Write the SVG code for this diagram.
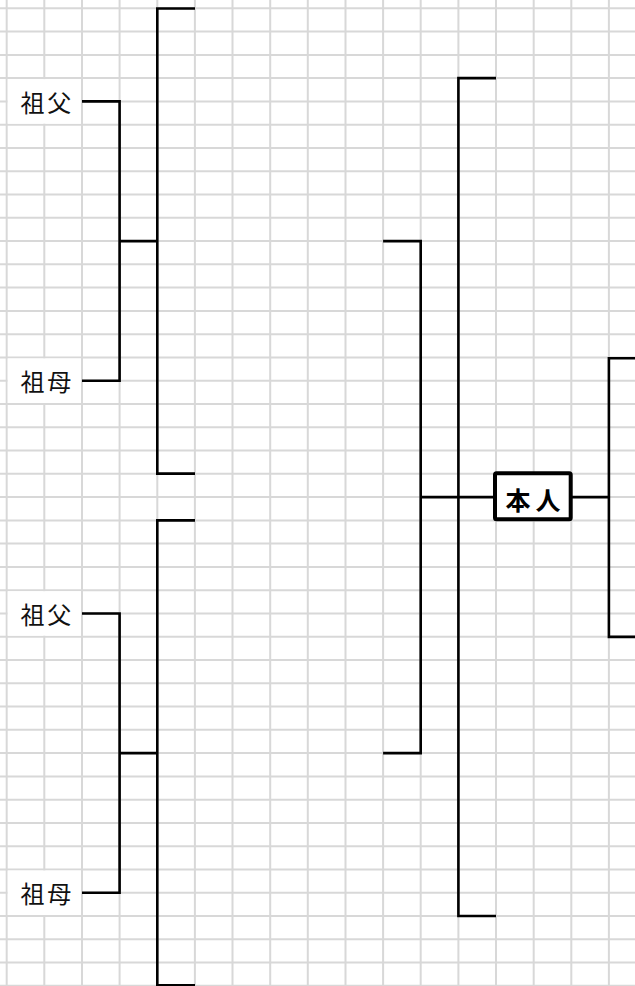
<svg xmlns="http://www.w3.org/2000/svg" width="635" height="986" viewBox="0 0 635 986">
<defs>
<style>
.grid line{stroke:#d8d8d8;stroke-width:2}
.cell{fill:#ffffff}
.lbl{font-family:"Noto Sans CJK JP","Noto Sans CJK SC",sans-serif;font-size:24px;fill:#111111;letter-spacing:2.7px}
.me{font-family:"Noto Sans CJK JP","Noto Sans CJK SC",sans-serif;font-size:25px;font-weight:bold;fill:#000000;letter-spacing:5px}
.box{fill:#ffffff;stroke:#000000;stroke-width:4}
.con path{fill:none;stroke:#000000;stroke-width:2.6;stroke-linejoin:miter}
</style>
</defs>
<rect x="0" y="0" width="635" height="986" fill="#ffffff"/>
<g class="grid">
<line x1="6.7" y1="0" x2="6.7" y2="986"/>
<line x1="44.3" y1="0" x2="44.3" y2="986"/>
<line x1="82" y1="0" x2="82" y2="986"/>
<line x1="119.6" y1="0" x2="119.6" y2="986"/>
<line x1="157.3" y1="0" x2="157.3" y2="986"/>
<line x1="194.9" y1="0" x2="194.9" y2="986"/>
<line x1="232.5" y1="0" x2="232.5" y2="986"/>
<line x1="270.2" y1="0" x2="270.2" y2="986"/>
<line x1="307.8" y1="0" x2="307.8" y2="986"/>
<line x1="345.5" y1="0" x2="345.5" y2="986"/>
<line x1="383.1" y1="0" x2="383.1" y2="986"/>
<line x1="420.7" y1="0" x2="420.7" y2="986"/>
<line x1="458.4" y1="0" x2="458.4" y2="986"/>
<line x1="496" y1="0" x2="496" y2="986"/>
<line x1="533.7" y1="0" x2="533.7" y2="986"/>
<line x1="571.3" y1="0" x2="571.3" y2="986"/>
<line x1="608.9" y1="0" x2="608.9" y2="986"/>
<line x1="0" y1="8.3" x2="635" y2="8.3"/>
<line x1="0" y1="31.6" x2="635" y2="31.6"/>
<line x1="0" y1="54.9" x2="635" y2="54.9"/>
<line x1="0" y1="78.1" x2="635" y2="78.1"/>
<line x1="0" y1="101.4" x2="635" y2="101.4"/>
<line x1="0" y1="124.7" x2="635" y2="124.7"/>
<line x1="0" y1="148" x2="635" y2="148"/>
<line x1="0" y1="171.2" x2="635" y2="171.2"/>
<line x1="0" y1="194.5" x2="635" y2="194.5"/>
<line x1="0" y1="217.8" x2="635" y2="217.8"/>
<line x1="0" y1="241.1" x2="635" y2="241.1"/>
<line x1="0" y1="264.3" x2="635" y2="264.3"/>
<line x1="0" y1="287.6" x2="635" y2="287.6"/>
<line x1="0" y1="310.9" x2="635" y2="310.9"/>
<line x1="0" y1="334.2" x2="635" y2="334.2"/>
<line x1="0" y1="357.4" x2="635" y2="357.4"/>
<line x1="0" y1="380.7" x2="635" y2="380.7"/>
<line x1="0" y1="404" x2="635" y2="404"/>
<line x1="0" y1="427.3" x2="635" y2="427.3"/>
<line x1="0" y1="450.5" x2="635" y2="450.5"/>
<line x1="0" y1="473.8" x2="635" y2="473.8"/>
<line x1="0" y1="497.1" x2="635" y2="497.1"/>
<line x1="0" y1="520.4" x2="635" y2="520.4"/>
<line x1="0" y1="543.6" x2="635" y2="543.6"/>
<line x1="0" y1="566.9" x2="635" y2="566.9"/>
<line x1="0" y1="590.2" x2="635" y2="590.2"/>
<line x1="0" y1="613.5" x2="635" y2="613.5"/>
<line x1="0" y1="636.7" x2="635" y2="636.7"/>
<line x1="0" y1="660" x2="635" y2="660"/>
<line x1="0" y1="683.3" x2="635" y2="683.3"/>
<line x1="0" y1="706.6" x2="635" y2="706.6"/>
<line x1="0" y1="729.8" x2="635" y2="729.8"/>
<line x1="0" y1="753.1" x2="635" y2="753.1"/>
<line x1="0" y1="776.4" x2="635" y2="776.4"/>
<line x1="0" y1="799.7" x2="635" y2="799.7"/>
<line x1="0" y1="822.9" x2="635" y2="822.9"/>
<line x1="0" y1="846.2" x2="635" y2="846.2"/>
<line x1="0" y1="869.5" x2="635" y2="869.5"/>
<line x1="0" y1="892.8" x2="635" y2="892.8"/>
<line x1="0" y1="916" x2="635" y2="916"/>
<line x1="0" y1="939.3" x2="635" y2="939.3"/>
<line x1="0" y1="962.6" x2="635" y2="962.6"/>
<line x1="0" y1="985.8" x2="635" y2="985.8"/>
</g>
<g id="grandfather-1">
<rect class="cell" x="7.7" y="79.1" width="73.3" height="44.6"/>
<text class="lbl" x="20.5" y="111.5">祖父</text>
</g>
<g id="grandmother-1">
<rect class="cell" x="7.7" y="358.4" width="73.3" height="44.6"/>
<text class="lbl" x="20.5" y="390.8">祖母</text>
</g>
<g id="grandfather-2">
<rect class="cell" x="7.7" y="591.2" width="73.3" height="44.5"/>
<text class="lbl" x="20.5" y="623.6">祖父</text>
</g>
<g id="grandmother-2">
<rect class="cell" x="7.7" y="870.5" width="73.3" height="44.5"/>
<text class="lbl" x="20.5" y="902.9">祖母</text>
</g>
<g class="con" id="connectors">
<path d="M82,101.4 H119.6 V380.7 H82"/>
<path d="M119.6,241.1 H157.3"/>
<path d="M195,8.5 H157.3 V473.6 H195"/>
<path d="M82,613.5 H119.6 V892.8 H82"/>
<path d="M119.6,753.1 H157.3"/>
<path d="M195,520.4 H157.3 V985.3 H195"/>
<path d="M383.1,241.1 H420.7 V753.1 H383.1"/>
<path d="M420.7,497.1 H495"/>
<path d="M496,78.1 H458.4 V916 H496"/>
<path d="M571,497.1 H608.9"/>
<path d="M635,358.2 H608.9 V636.9 H635"/>
</g>
<g id="self">
<rect class="box" x="495" y="473.3" width="75.7" height="46" rx="1.5"/>
<text class="me" x="505.5" y="509.5">本人</text>
</g>
</svg>
